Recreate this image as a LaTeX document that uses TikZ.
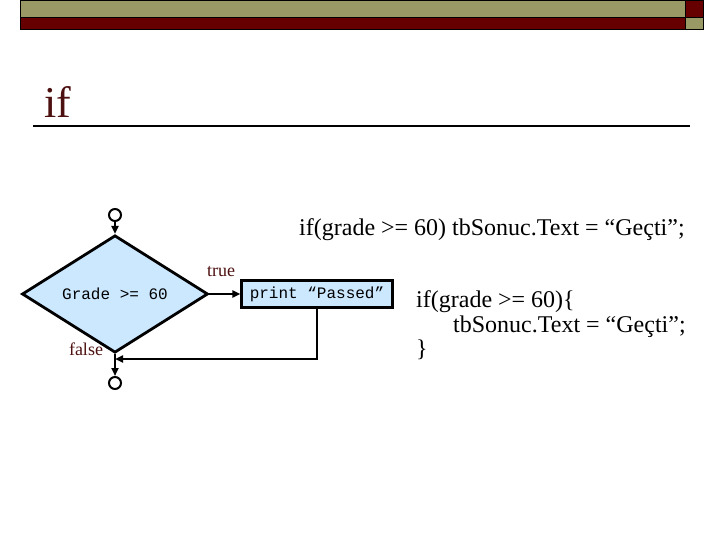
\documentclass[tikz,border=0pt]{standalone}
\usepackage{fontspec}
\setmainfont{Liberation Serif}
\newfontfamily\codefont{Liberation Mono}
\usetikzlibrary{shapes.geometric,arrows.meta}
\definecolor{olivebar}{RGB}{153,153,102}
\definecolor{redbar}{RGB}{102,0,0}
\definecolor{titlered}{RGB}{77,16,16}
\definecolor{lightblue}{RGB}{204,232,255}
\tikzset{
  conn/.style={line width=2.8pt,-{Stealth[length=8pt,width=7pt,inset=0pt]}},
  term/.style={circle,draw,line width=2pt,fill=white,minimum size=12pt,inner sep=0pt},
  decision/.style={diamond,draw,line width=2.8pt,fill=lightblue,minimum width=186pt,minimum height=84pt,inner sep=0pt,font=\codefont\fontsize{16}{18}\selectfont},
  process/.style={rectangle,draw,line width=2.2pt,fill=lightblue,minimum width=151pt,minimum height=27pt,inner sep=0pt,font=\codefont\fontsize{16}{18}\selectfont},
  lbl/.style={font=\fontsize{18}{20}\selectfont,text=titlered,inner sep=0pt},
  code/.style={font=\fontsize{24}{28}\selectfont,inner sep=0pt,anchor=base west},
  bar/.style={draw=black,line width=0.8pt}
}
\begin{document}
\begin{tikzpicture}[x=1pt,y=-1pt]
\useasboundingbox (0,0) rectangle (720,540);
% header bars
\filldraw[bar,fill=olivebar] (20,0) rectangle (685,17);
\filldraw[bar,fill=redbar] (20,17) rectangle (685,29);
\filldraw[bar,fill=redbar] (685,0) rectangle (703,17);
\filldraw[bar,fill=olivebar] (685,17) rectangle (703,29);
% title
\node[anchor=base west,inner sep=0pt,text=titlered,font=\fontsize{44}{48}\selectfont] (title) at (44,118) {if};
\draw[line width=1.2pt] (33,126) -- (690,126);
% flowchart
\node[term] (start) at (115,215) {};
\node[decision] (dec) at (115,294) {Grade >= 60};
\node[process] (proc) at (317,294) {print “Passed”};
\node[term] (stop) at (115,383) {};
\coordinate (join) at (115,359);
\draw[conn] (start) -- (dec.north);
\draw[conn] (dec.east) -- (proc.west);
\draw[conn] (dec.south) -- (stop);
\draw[conn] (proc.south) |- (join);
\node[lbl] (ltrue) at (221,272) {true};
\node[lbl] (lfalse) at (86,349) {false};
% code text
\node[code] (line1) at (299,236) {if(grade >= 60) tbSonuc.Text = “Geçti”;};
\node[code] (c1) at (416,307) {if(grade >= 60)\{};
\node[code] (c2) at (453,332) {tbSonuc.Text = “Geçti”;};
\node[code] (c3) at (416,356) {\}};
\end{tikzpicture}
\end{document}
